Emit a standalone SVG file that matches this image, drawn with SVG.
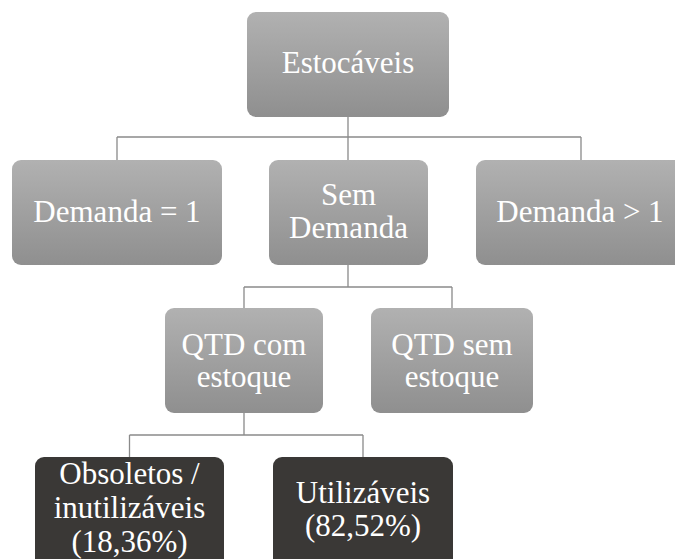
<svg xmlns="http://www.w3.org/2000/svg" width="675" height="559" viewBox="0 0 675 559">
  <defs>
    <linearGradient id="grey" x1="0" y1="0" x2="0" y2="1">
      <stop offset="0" stop-color="#b1b1b1"/>
      <stop offset="1" stop-color="#8f8f8f"/>
    </linearGradient>
    <style>
      .box { fill: url(#grey); }
      .dark { fill: #3a3836; }
      .lbl { font-family: 'Liberation Serif', 'Times New Roman', serif; font-size: 31px; fill: #ffffff; text-anchor: middle; }
      .wire { fill: none; stroke: #8a8a8a; stroke-width: 1.3; }
    </style>
  </defs>
  <rect width="675" height="559" fill="#ffffff"/>

  <g id="connectors">
    <path class="wire" d="M348 117 V137 M117 137 H581 M117 137 V160 M348 137 V160 M581 137 V160"/>
    <path class="wire" d="M348 265 V287 M244 287 H452 M244 287 V308 M452 287 V308"/>
    <path class="wire" d="M244 413 V435 M129.5 435 H363 M129.5 435 V457 M363 435 V457"/>
  </g>

  <g id="estocaveis">
    <rect class="box" x="247" y="12" width="202" height="105" rx="9"/>
    <text class="lbl" x="348" y="73">Estocáveis</text>
  </g>

  <g id="demanda-1">
    <rect class="box" x="12" y="160" width="210" height="105" rx="9"/>
    <text class="lbl" x="117" y="222">Demanda = 1</text>
  </g>

  <g id="sem-demanda">
    <rect class="box" x="269" y="160" width="159" height="105" rx="9"/>
    <text class="lbl" x="348.5" y="205">Sem</text>
    <text class="lbl" x="348.5" y="238">Demanda</text>
  </g>

  <g id="demanda-maior-1">
    <rect class="box" x="476" y="160" width="210" height="105" rx="9"/>
    <text class="lbl" x="580" y="222">Demanda &gt; 1</text>
  </g>

  <g id="qtd-com-estoque">
    <rect class="box" x="165" y="308" width="158" height="105" rx="9"/>
    <text class="lbl" x="244" y="355">QTD com</text>
    <text class="lbl" x="244" y="387">estoque</text>
  </g>

  <g id="qtd-sem-estoque">
    <rect class="box" x="371" y="308" width="162" height="105" rx="9"/>
    <text class="lbl" x="452" y="355">QTD sem</text>
    <text class="lbl" x="452" y="387">estoque</text>
  </g>

  <g id="obsoletos">
    <rect class="dark" x="35" y="457" width="189" height="120" rx="9"/>
    <text class="lbl" x="129.5" y="484">Obsoletos /</text>
    <text class="lbl" x="129.5" y="518">inutilizáveis</text>
    <text class="lbl" x="129.5" y="552">(18,36%)</text>
  </g>

  <g id="utilizaveis">
    <rect class="dark" x="273" y="457" width="180" height="120" rx="9"/>
    <text class="lbl" x="363" y="503">Utilizáveis</text>
    <text class="lbl" x="363" y="536">(82,52%)</text>
  </g>
</svg>
